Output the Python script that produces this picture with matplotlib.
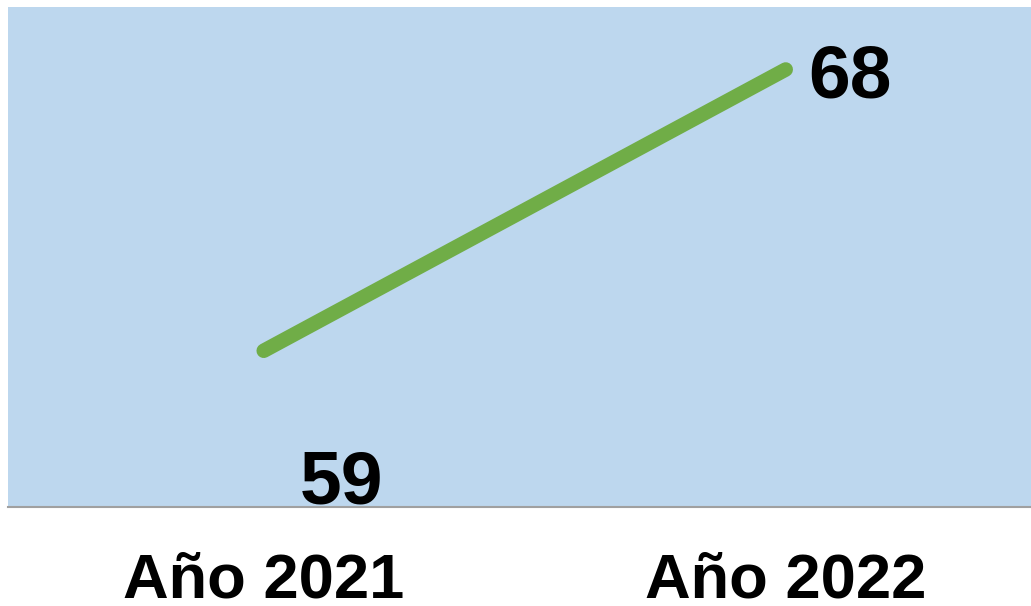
import matplotlib.pyplot as plt

# Data
categories = ['Año 2021', 'Año 2022']
values = [59, 68]

plt.rcParams['font.family'] = ['Liberation Sans', 'DejaVu Sans']

fig = plt.figure(figsize=(10.31, 6.06), dpi=100)
ax = fig.add_axes([8 / 1031, 99 / 606, 1023 / 1031, 500 / 606])
ax.set_facecolor('#BDD7EE')

x = list(range(len(categories)))
ax.plot(x, values, color='#70AD47', linewidth=10.5, solid_capstyle='round')

# value labels
offsets = [(56, -96), (46, -6)]
for xi, v, off in zip(x, values, offsets):
    ax.annotate(str(v), (xi, v), xytext=off, textcoords='offset points',
                ha='center', va='center', fontsize=54, fontweight='bold')

ax.set_xlim(-0.49, 1.47)
ax.set_ylim(54, 70)
ax.set_xticks(x)
ax.set_xticklabels(categories, fontsize=45.5, fontweight='bold')
ax.tick_params(axis='x', length=0, pad=32)
ax.set_yticks([])

for side in ['top', 'left', 'right']:
    ax.spines[side].set_visible(False)
ax.spines['bottom'].set_color('#A0A0A0')
ax.spines['bottom'].set_linewidth(1.5)

fig.savefig('out.png', dpi=100)
